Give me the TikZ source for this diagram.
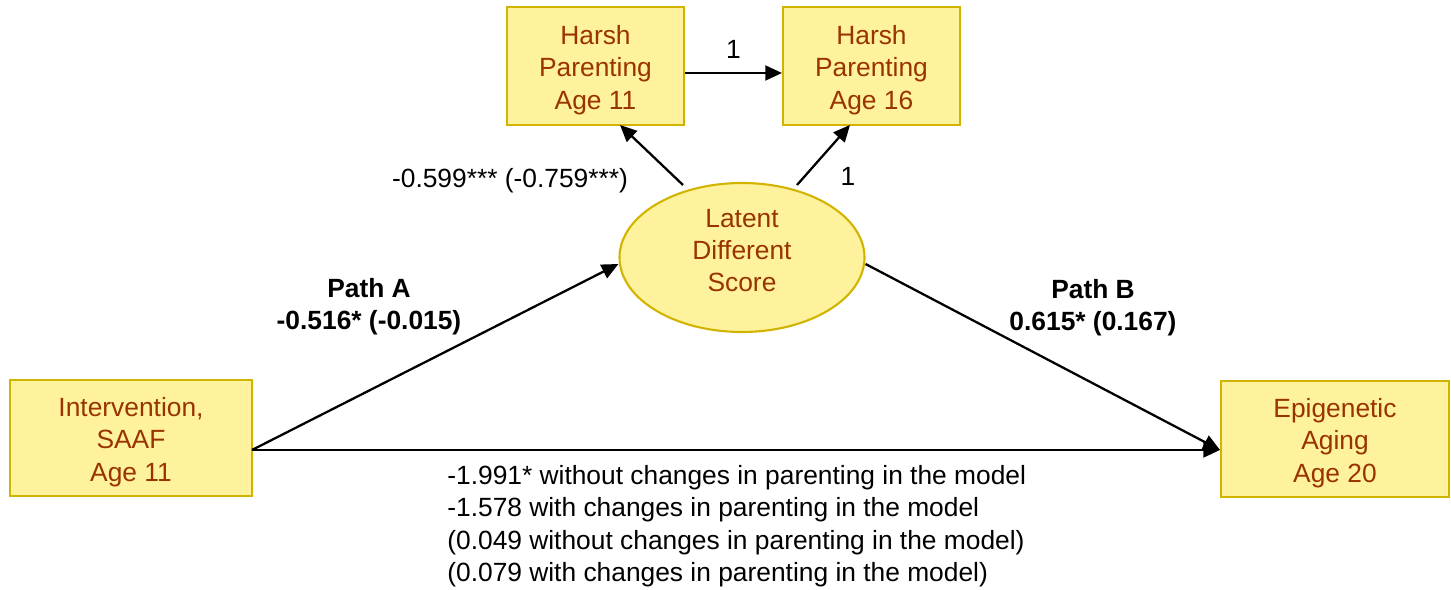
\documentclass[tikz,border=0pt]{standalone}
\usepackage{fontspec}
\setmainfont{Liberation Sans}
\usetikzlibrary{arrows.meta,shapes.geometric}

\definecolor{boxfill}{HTML}{FFF29C}
\definecolor{boxline}{HTML}{D2B400}
\definecolor{boxtext}{HTML}{993300}

% struts to center the text in the shapes
\newcommand{\topstrut}{\rule{0pt}{15.4pt}}
\newcommand{\botstrut}{\rule[-8pt]{0pt}{8pt}}

\tikzset{
  var/.style={draw=boxline, fill=boxfill, text=boxtext, line width=1.2pt,
    align=center, inner sep=0pt},
  lat/.style={ellipse, draw=boxline, fill=boxfill, text=boxtext, line width=1.2pt,
    align=center, inner sep=0pt},
  path/.style={-{Triangle[length=9.5pt,width=8.5pt]}, line width=1.3pt},
  lbl/.style={inner sep=0pt}
}

\begin{document}
\begin{tikzpicture}[x=0.02cm, y=-0.02cm, font=\fontsize{15}{18.4}\selectfont]
  \useasboundingbox (0,0) rectangle (1451,590);
  % observed and latent variables
  \node[var, minimum width=177*0.02cm, minimum height=118*0.02cm] (H11) at (595.5,66) {\topstrut Harsh\\Parenting\\Age 11};
  \node[var, minimum width=177*0.02cm, minimum height=118*0.02cm] (H16) at (871.5,66) {\topstrut Harsh\\Parenting\\Age 16};
  \node[lat, minimum width=245*0.02cm, minimum height=149*0.02cm] (LDS) at (742,257.5) {Latent\\Different\\Score\botstrut};
  \node[var, minimum width=242*0.02cm, minimum height=116*0.02cm] (SAAF) at (131,438) {\topstrut Intervention,\\SAAF\\Age 11};
  \node[var, minimum width=228*0.02cm, minimum height=116*0.02cm] (EA) at (1335,439) {\topstrut Epigenetic\\Aging\\Age 20};
  % paths
  \coordinate (L1) at (683,185);
  \coordinate (L2) at (797,185);
  \coordinate (S1) at (252,450);
  \draw[path] (H11.east |- 0,73) -- node[lbl, above=7.5pt] {1} (H16.west |- 0,73);
  \draw[path] (L1) -- (620,125);
  \draw[path] (L2) -- (850,125);
  \draw[path] (S1) -- (LDS.west |- 0,264);
  \draw[path] (LDS.east |- 0,264) -- (EA.west |- 0,450);
  \draw[path] (S1) -- (EA.west |- 0,450);
  % labels
  \node[lbl] (k1) at (848,176) {1};
  \node[lbl] (lam) at (510,181) {-0.599*** (-0.759***)};
  \node[lbl, align=center, font=\fontsize{15}{18.4}\selectfont\bfseries] (pa) at (369,307) {Path A\\-0.516* (-0.015)};
  \node[lbl, align=center, font=\fontsize{15}{18.4}\selectfont\bfseries] (pb) at (1093,308) {Path B\\0.615* (0.167)};
  \node[lbl, anchor=north west, align=left] (dir) at (447,465)
    {-1.991* without changes in parenting in the model\\
     -1.578 with changes in parenting in the model\\
     (0.049 without changes in parenting in the model)\\
     (0.079 with changes in parenting in the model)};
\end{tikzpicture}
\end{document}
